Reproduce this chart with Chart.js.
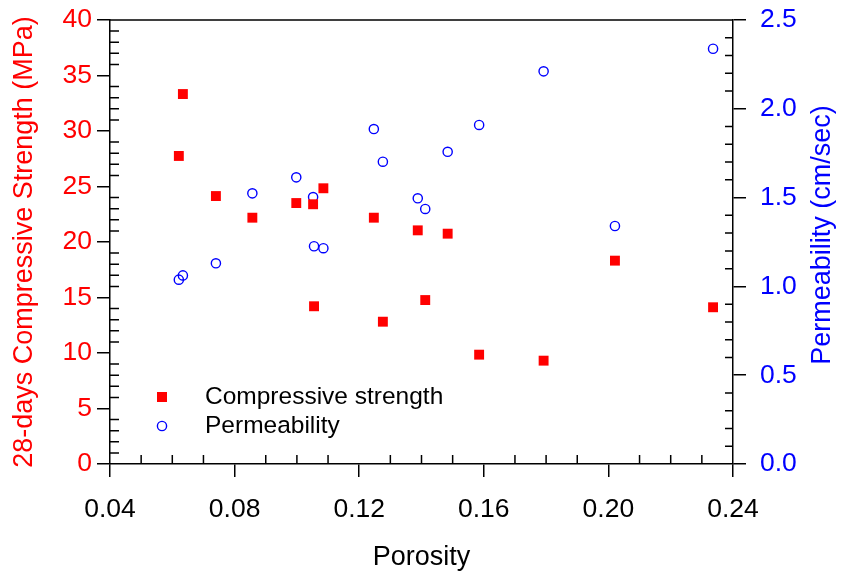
<!DOCTYPE html>
<html>
<head>
<meta charset="utf-8">
<script src="https://cdn.jsdelivr.net/npm/chart.js@4.4.1/dist/chart.umd.min.js"></script>
<style>
  body { margin: 0; background: #fff; }
  #wrap { width: 842px; height: 580px; }
</style>
</head>
<body>
<div id="wrap"><canvas id="chart"></canvas></div>
<script>
// porosity of each sample (shared by both series)
const porosity = [0.0621, 0.0634, 0.0740, 0.0857, 0.0998, 0.1052, 0.1055, 0.1085, 0.1247,
                  0.1276, 0.1388, 0.1412, 0.1484, 0.1585, 0.1792, 0.2021, 0.2336];
// 28-day compressive strength, MPa
const strength = [27.75, 33.33, 24.14, 22.19, 23.51, 23.40, 14.21, 24.84, 22.19,
                  12.82, 21.05, 14.77, 20.75, 9.85, 9.31, 18.32, 14.12];
// permeability, cm/sec
const permeability = [1.038, 1.062, 1.130, 1.524, 1.614, 1.503, 1.226, 1.215, 1.886,
                      1.702, 1.496, 1.436, 1.758, 1.909, 2.211, 1.340, 2.338];

const xTicks = [0.04, 0.08, 0.12, 0.16, 0.20, 0.24];
const strengthTicks = [0, 5, 10, 15, 20, 25, 30, 35, 40];
const permTicks = [0, 0.5, 1.0, 1.5, 2.0, 2.5];

const RED = '#ff0000';
const BLUE = '#0000ff';
const FONT = "'Liberation Sans', Arial, sans-serif";

const toPoints = (ys) => porosity.map((x, i) => ({ x: x, y: ys[i] }));
const setTicks = (list) => (scale) => { scale.ticks = list.map(v => ({ value: v })); };
// fixed axis box sizes so the plot area lands where the original's is
const fixWidth = (w) => (s) => { s.width = w; s.paddingTop = 0; s.paddingBottom = 0; };
const fixHeight = (h) => (s) => { s.height = h; s.paddingLeft = 0; s.paddingRight = 0; };

// minor ticks point inward, plus the top frame line
const minorTicks = {
  id: 'minorTicks',
  afterDraw(chart) {
    const { ctx, chartArea: a, scales } = chart;
    ctx.save();
    ctx.strokeStyle = '#000';
    ctx.lineWidth = 1.5;
    ctx.beginPath();
    for (let i = 4; i <= 24; i++) {
      if (i % 4 === 0) continue;
      const px = scales.x.getPixelForValue(i / 100);
      ctx.moveTo(px, a.bottom); ctx.lineTo(px, a.bottom - 9);
    }
    for (let i = 0; i <= 40; i++) {
      if (i % 5 === 0) continue;
      const py = scales.y.getPixelForValue(i);
      ctx.moveTo(a.left, py); ctx.lineTo(a.left + 9, py);
    }
    for (let i = 0; i <= 25; i++) {
      if (i % 5 === 0) continue;
      const py = scales.y2.getPixelForValue(i / 10);
      ctx.moveTo(a.right, py); ctx.lineTo(a.right - 8, py);
    }
    ctx.moveTo(a.left, a.top); ctx.lineTo(a.right, a.top);
    ctx.stroke();

    // right axis title reads bottom to top
    ctx.fillStyle = BLUE;
    ctx.font = '27px ' + FONT;
    ctx.textAlign = 'center';
    ctx.textBaseline = 'middle';
    ctx.translate(823, (a.top + a.bottom) / 2 - 7);
    ctx.rotate(-Math.PI / 2);
    ctx.fillText('Permeability (cm/sec)', 0, 0);
    ctx.restore();
  }
};

// legend inside the plot, bottom left
const insideLegend = {
  id: 'insideLegend',
  afterDraw(chart) {
    const { ctx, chartArea: a } = chart;
    const sets = chart.data.datasets;
    const mx = a.left + 52, tx = a.left + 95;
    const rows = [a.bottom - 67, a.bottom - 38];
    ctx.save();
    ctx.font = '24.5px ' + FONT;
    ctx.textBaseline = 'middle';
    sets.forEach((ds, i) => {
      const y = rows[i];
      if (ds.pointStyle === 'rect') {
        ctx.fillStyle = ds.backgroundColor;
        ctx.fillRect(mx - 5, y - 5, 10, 10);
      } else {
        ctx.strokeStyle = ds.borderColor;
        ctx.lineWidth = ds.borderWidth;
        ctx.beginPath();
        ctx.arc(mx, y, ds.pointRadius, 0, Math.PI * 2);
        ctx.stroke();
      }
      ctx.fillStyle = '#000';
      ctx.fillText(ds.label, tx, y);
    });
    ctx.restore();
  }
};

new Chart(document.getElementById('chart'), {
  type: 'scatter',
  data: {
    datasets: [
      {
        label: 'Compressive strength',
        data: toPoints(strength),
        yAxisID: 'y',
        pointStyle: 'rect',
        pointRadius: 7,
        backgroundColor: RED,
        borderColor: RED,
        borderWidth: 0
      },
      {
        label: 'Permeability',
        data: toPoints(permeability),
        yAxisID: 'y2',
        pointStyle: 'circle',
        pointRadius: 4.6,
        backgroundColor: 'rgba(0,0,0,0)',
        borderColor: BLUE,
        borderWidth: 1.4
      }
    ]
  },
  options: {
    responsive: true,
    maintainAspectRatio: false,
    animation: false,
    layout: { padding: { top: 20, left: 0, right: 0, bottom: 0 } },
    plugins: { legend: { display: false }, tooltip: { enabled: false } },
    scales: {
      x: {
        type: 'linear',
        min: 0.04, max: 0.24,
        afterBuildTicks: setTicks(xTicks),
        afterFit: fixHeight(116),
        border: { display: true, color: '#000', width: 1.5 },
        grid: { drawOnChartArea: false, drawTicks: true, tickLength: 13, color: '#000', lineWidth: 1.5 },
        ticks: { color: '#000', padding: 17, font: { family: FONT, size: 26.5 }, callback: (v) => v.toFixed(2) },
        title: { display: true, text: 'Porosity', color: '#000', font: { family: FONT, size: 27 }, padding: { top: 0, bottom: 6 } }
      },
      y: {
        type: 'linear',
        position: 'left',
        min: 0, max: 40,
        afterBuildTicks: setTicks(strengthTicks),
        afterFit: fixWidth(110),
        border: { display: true, color: '#000', width: 1.5 },
        grid: { drawOnChartArea: false, drawTicks: true, tickLength: 13, color: '#000', lineWidth: 1.5 },
        ticks: { color: RED, padding: 5, font: { family: FONT, size: 26.5 } },
        title: { display: true, text: '28-days Compressive Strength (MPa)', color: RED, font: { family: FONT, size: 27 }, padding: { top: 8, bottom: 0 } }
      },
      y2: {
        type: 'linear',
        position: 'right',
        min: 0, max: 2.5,
        afterBuildTicks: setTicks(permTicks),
        afterFit: fixWidth(109),
        border: { display: true, color: '#000', width: 1.5 },
        grid: { drawOnChartArea: false, drawTicks: true, tickLength: 13, color: '#000', lineWidth: 1.5 },
        ticks: { color: BLUE, padding: 14, font: { family: FONT, size: 26.5 }, callback: (v) => v.toFixed(1) }
      }
    }
  },
  plugins: [minorTicks, insideLegend]
});
</script>
</body>
</html>
